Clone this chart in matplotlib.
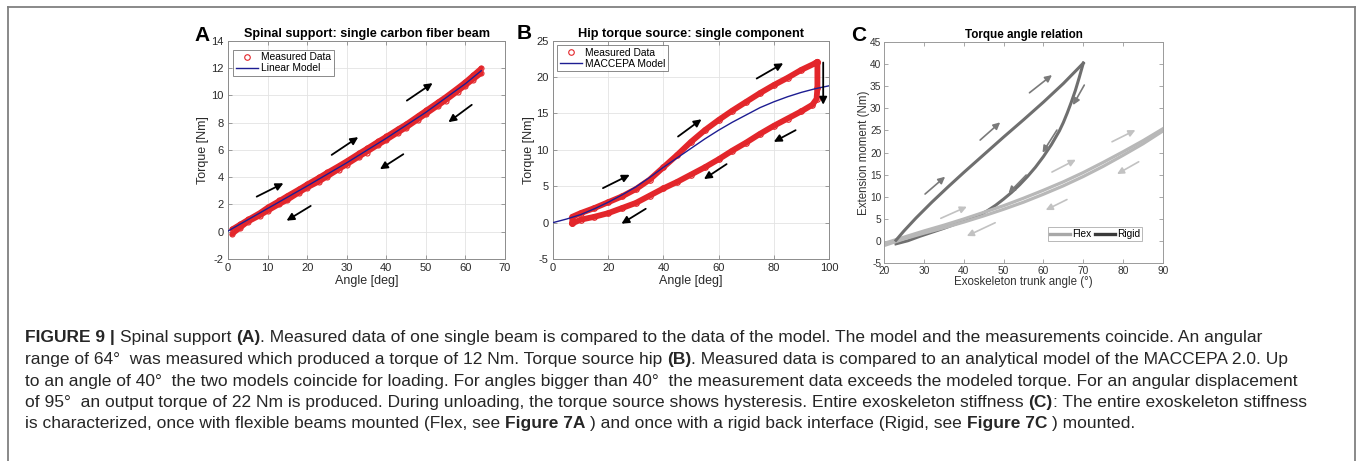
import matplotlib
matplotlib.use('Agg')
import matplotlib.pyplot as plt
from matplotlib.lines import Line2D

W, H = 1360, 461

# ---------------- Panel A data ----------------
a_load_angle = [1, 3, 5, 8, 10, 13, 15, 18, 20, 23, 25, 28, 30, 33, 35, 38, 40, 43, 45, 48, 50, 53, 55, 58, 60, 62, 64]
a_load_torque = [0.2, 0.55, 0.9, 1.4, 1.8, 2.3, 2.65, 3.15, 3.5, 4.0, 4.35, 4.85, 5.2, 5.75, 6.1, 6.65, 7.0, 7.55, 7.9, 8.5, 8.9, 9.5, 9.9, 10.55, 11.0, 11.5, 12.0]
a_unload_angle = [64, 62, 60, 58, 55, 53, 50, 48, 45, 43, 40, 38, 35, 33, 30, 28, 25, 23, 20, 18, 15, 13, 10, 8, 5, 3, 1]
a_unload_torque = [11.6, 11.15, 10.7, 10.25, 9.6, 9.2, 8.6, 8.2, 7.6, 7.25, 6.7, 6.35, 5.8, 5.45, 4.9, 4.55, 4.0, 3.65, 3.2, 2.85, 2.3, 2.0, 1.5, 1.15, 0.7, 0.25, -0.2]
a_model_angle = [0, 10, 20, 30, 40, 50, 60, 64]
a_model_torque = [0.05, 1.7, 3.35, 5.05, 6.85, 8.75, 10.85, 11.8]

# ---------------- Panel B data ----------------
b_load_angle = [7, 7, 10, 15, 20, 25, 30, 35, 40, 45, 50, 55, 60, 65, 70, 75, 80, 85, 90, 95, 95.8]
b_load_torque = [-0.1, 0.8, 1.3, 2.0, 2.8, 3.6, 4.6, 5.9, 7.6, 9.3, 11.1, 12.7, 14.1, 15.4, 16.6, 17.8, 18.9, 19.9, 21.0, 21.9, 22.1]
b_unload_angle = [95.8, 95.8, 95.5, 94, 90, 85, 80, 75, 70, 65, 60, 55, 50, 45, 40, 35, 30, 25, 20, 15, 10, 7]
b_unload_torque = [22.1, 18.5, 17.0, 16.2, 15.3, 14.3, 13.3, 12.2, 11.0, 9.9, 8.7, 7.6, 6.6, 5.6, 4.7, 3.7, 2.7, 2.0, 1.3, 0.8, 0.4, -0.1]
b_model_angle = [0, 5, 10, 15, 20, 25, 30, 35, 40, 45, 50, 55, 60, 65, 70, 75, 80, 85, 90, 95, 100]
b_model_torque = [0, 0.5, 1.1, 1.9, 2.8, 3.8, 4.9, 6.2, 7.6, 8.9, 10.2, 11.5, 12.7, 13.8, 14.8, 15.8, 16.6, 17.3, 17.9, 18.4, 18.8]

# ---------------- Panel C data ----------------
rigid_load_angle = [23, 25, 28, 32, 36, 40, 45, 50, 55, 60, 65, 70]
rigid_load_moment = [0.2, 2.3, 5.2, 8.8, 12.2, 15.5, 19.5, 23.5, 27.4, 31.4, 35.6, 40.2]
rigid_unload_angle = [70, 69, 68, 67, 66, 65, 64, 62, 60, 58, 56, 54, 52, 50, 48, 46, 44, 42, 40, 38, 35, 32, 29, 26, 23]
rigid_unload_moment = [40.2, 37.0, 34.0, 31.4, 29.0, 26.8, 24.9, 21.8, 19.1, 16.7, 14.6, 12.7, 11.0, 9.5, 8.1, 6.9, 5.9, 5.1, 4.5, 3.9, 2.9, 2.0, 1.1, 0.1, -0.6]
flex_load_angle = [20, 25, 30, 35, 40, 45, 50, 55, 60, 65, 70, 75, 80, 85, 90, 92]
flex_load_moment = [-0.5, 0.9, 2.3, 3.6, 5.0, 6.5, 8.0, 9.7, 11.5, 13.4, 15.5, 17.8, 20.2, 22.7, 25.4, 26.5]
flex_unload_angle = [92, 90, 85, 80, 75, 70, 65, 60, 55, 50, 45, 40, 35, 30, 25, 20]
flex_unload_moment = [26.0, 24.9, 22.0, 19.4, 16.9, 14.6, 12.5, 10.6, 8.8, 7.2, 5.7, 4.3, 3.0, 1.8, 0.5, -1.0]

# ---------------- Arrows (tail -> head, data units) ----------------
a_arrows = [((7.25, 2.57), (14.0, 3.55)), ((26.2, 5.63), (32.9, 6.93)), ((45.2, 9.61), (51.7, 10.89)),
            ((20.9, 1.89), (14.8, 0.81)), ((44.3, 5.68), (38.4, 4.58)), ((61.6, 9.30), (55.7, 8.03))]
b_arrows = [((18.1, 4.74), (27.8, 6.57)), ((45.3, 11.83), (53.8, 14.2)), ((73.8, 19.8), (83.4, 21.9)),
            ((33.6, 1.9), (24.8, -0.15)), ((62.9, 8.04), (54.7, 5.98)), ((87.9, 12.7), (80.0, 11.1)),
            ((97.9, 22.0), (97.9, 16.2))]
c_rigid_arrows = [((30.3, 10.64), (35.33, 14.55)), ((44.12, 22.83), (49.15, 26.83)), ((56.5, 33.51), (62.14, 37.51)),
                  ((70.25, 35.25), (67.41, 30.73)), ((63.39, 25.09), (59.77, 19.97)), ((55.68, 14.93), (51.23, 10.8))]
c_flex_arrows = [((34.25, 5.16), (40.78, 7.78)), ((62.14, 15.61), (68.12, 18.39)), ((77.21, 22.45), (83.07, 25.08)),
                 ((47.89, 4.16), (40.78, 1.16)), ((65.9, 9.4), (60.58, 7.03)), ((83.9, 17.93), (78.47, 15.16))]

caption_lines = [
    [("FIGURE 9 |", True), (" ", False), ("Spinal support", False), (" ", False), ("(A)", True),
     (". Measured data of one single beam is compared to the data of the model. The model and the measurements coincide. An angular", False)],
    [("range of 64\u00b0  was measured which produced a torque of 12 Nm. Torque source hip", False), (" ", False), ("(B)", True),
     (". Measured data is compared to an analytical model of the MACCEPA 2.0. Up", False)],
    [("to an angle of 40\u00b0  the two models coincide for loading. For angles bigger than 40\u00b0  the measurement data exceeds the modeled torque. For an angular displacement", False)],
    [("of 95\u00b0  an output torque of 22 Nm is produced. During unloading, the torque source shows hysteresis. Entire exoskeleton stiffness", False), (" ", False), ("(C)", True),
     (": The entire exoskeleton stiffness", False)],
    [("is characterized, once with flexible beams mounted (Flex, see", False), (" ", False), ("Figure 7A", True), (" ", False),
     (") and once with a rigid back interface (Rigid, see", False), (" ", False), ("Figure 7C", True), (" ", False), (") mounted.", False)],
]

plt.rcParams['font.family'] = ['Liberation Sans', 'DejaVu Sans']
plt.rcParams['axes.unicode_minus'] = False
fig = plt.figure(figsize=(W / 100, H / 100), dpi=100)


def rect(l, t, r, b):
    return [l / W, 1 - b / H, (r - l) / W, (b - t) / H]


def style(ax, grid=True, spine='#8c8c8c', lab='#2a2a2a', size=8, pad=3):
    for s in ax.spines.values():
        s.set_color(spine)
        s.set_linewidth(0.7)
    ax.tick_params(direction='in', top=True, right=True, length=3, width=0.6, color=spine,
                   labelsize=size, labelcolor=lab, pad=pad)
    if grid:
        ax.grid(True, color='#e3e3e3', lw=0.6)
        ax.set_axisbelow(True)


def arrows(ax, lst, color, lw=1.3, ms=11):
    for (tx, ty), (hx, hy) in lst:
        ax.annotate('', xy=(hx, hy), xytext=(tx, ty),
                    arrowprops=dict(arrowstyle='-|>', color=color, lw=lw, mutation_scale=ms,
                                    shrinkA=0, shrinkB=0))


RED = '#e3262b'
BLUE = '#1d1d92'

# ---------------- Panel A ----------------
axA = fig.add_axes(rect(228, 40.7, 505, 259))
style(axA)
for xs, ys in ((a_load_angle, a_load_torque), (a_unload_angle, a_unload_torque)):
    axA.plot(xs, ys, color=RED, lw=3.4, solid_capstyle='round', zorder=2)
    axA.plot(xs, ys, 'o', mfc='none', mec=RED, ms=3.6, mew=0.8, zorder=2)
axA.plot(a_model_angle, a_model_torque, color=BLUE, lw=1.0, zorder=3)
axA.set_xlim(0, 70)
axA.set_ylim(-2, 14)
axA.set_xticks(range(0, 71, 10))
axA.set_yticks(range(-2, 15, 2))
axA.set_xlabel('Angle [deg]', fontsize=9, color='#2a2a2a', labelpad=1)
axA.set_ylabel('Torque [Nm]', fontsize=9, color='#2a2a2a', labelpad=2)
axA.set_title('Spinal support: single carbon fiber beam', fontsize=9.1, fontweight='bold', pad=3)
hA = [Line2D([], [], ls='none', marker='o', mfc='none', mec=RED, ms=4, mew=0.8),
      Line2D([], [], color=BLUE, lw=1.0)]
legA = axA.legend(hA, ['Measured Data', 'Linear Model'], loc='upper left', bbox_to_anchor=(0.018, 0.958),
                  fontsize=7.4, frameon=True, fancybox=False, edgecolor='#555555', borderpad=0.25,
                  labelspacing=0.1, handlelength=2.2, handletextpad=0.3, borderaxespad=0)
legA.get_frame().set_linewidth(0.6)
arrows(axA, a_arrows, 'black')

# ---------------- Panel B ----------------
axB = fig.add_axes(rect(553, 40.7, 829, 259))
style(axB)
for xs, ys in ((b_load_angle, b_load_torque), (b_unload_angle, b_unload_torque)):
    axB.plot(xs, ys, color=RED, lw=4.2, solid_capstyle='round', solid_joinstyle='round', zorder=2)
    axB.plot(xs, ys, 'o', mfc='none', mec=RED, ms=4, mew=0.8, zorder=2)
axB.plot(b_model_angle, b_model_torque, color=BLUE, lw=1.0, zorder=3)
axB.set_xlim(0, 100)
axB.set_ylim(-5, 25)
axB.set_xticks(range(0, 101, 20))
axB.set_yticks(range(-5, 26, 5))
axB.set_xlabel('Angle [deg]', fontsize=9, color='#2a2a2a', labelpad=1)
axB.set_ylabel('Torque [Nm]', fontsize=9, color='#2a2a2a', labelpad=1)
axB.set_title('Hip torque source: single component', fontsize=9.2, fontweight='bold', pad=3)
hB = [Line2D([], [], ls='none', marker='o', mfc='none', mec=RED, ms=4, mew=0.8),
      Line2D([], [], color=BLUE, lw=1.0)]
legB = axB.legend(hB, ['Measured Data', 'MACCEPA Model'], loc='upper left', bbox_to_anchor=(0.015, 0.98),
                  fontsize=7.4, frameon=True, fancybox=False, edgecolor='#555555', borderpad=0.25,
                  labelspacing=0.1, handlelength=2.2, handletextpad=0.3, borderaxespad=0)
legB.get_frame().set_linewidth(0.6)
arrows(axB, b_arrows, 'black')

# ---------------- Panel C ----------------
axC = fig.add_axes(rect(884, 41.9, 1163, 263.3))
style(axC, grid=False, spine='#9a9a9a', lab='#333333', size=7.3, pad=2)
FLEX = '#b8b8b8'
RIGID = '#6f6f6f'
axC.plot(flex_load_angle, flex_load_moment, color=FLEX, lw=2.3, zorder=2, solid_capstyle='butt')
axC.plot(flex_unload_angle, flex_unload_moment, color=FLEX, lw=2.3, zorder=2, solid_capstyle='butt')
axC.plot(rigid_unload_angle, rigid_unload_moment, color=RIGID, lw=2.2, zorder=1, solid_joinstyle='round')
axC.plot(rigid_load_angle, rigid_load_moment, color=RIGID, lw=2.2, zorder=3, solid_joinstyle='round')
axC.set_xlim(20, 90)
axC.set_ylim(-5, 45)
axC.set_xticks(range(20, 91, 10))
axC.set_yticks(range(-5, 46, 5))
axC.set_xlabel('Exoskeleton trunk angle (\u00b0)', fontsize=8.3, color='#333333', labelpad=0)
axC.set_ylabel('Extension moment (Nm)', fontsize=8.3, color='#333333', labelpad=0)
axC.set_title('Torque angle relation', fontsize=8.4, fontweight='bold', pad=3)
hC = [Line2D([], [], color='#a8a8a8', lw=2.4), Line2D([], [], color='#3a3a3a', lw=2.4)]
legC = axC.legend(hC, ['Flex', 'Rigid'], loc='lower left', bbox_to_anchor=(0.588, 0.10), ncol=2,
                  fontsize=7.3, frameon=True, fancybox=False, edgecolor='#999999', borderpad=0.2,
                  handlelength=2.0, handletextpad=0.2, columnspacing=0.3, borderaxespad=0)
legC.get_frame().set_linewidth(0.6)
arrows(axC, c_rigid_arrows, '#7a7a7a', lw=1.2, ms=10)
arrows(axC, c_flex_arrows, '#c2c2c2', lw=1.2, ms=10)

# panel letters
for lab, x, y in (('A', 194, 41), ('B', 517, 39), ('C', 851, 41)):
    fig.text(x / W, 1 - y / H, lab, fontsize=15, fontweight='bold', va='baseline', ha='left')

# outer frame (top, left, right)
fc = '#808080'
fig.add_artist(Line2D([8 / W, 1355 / W], [1 - 7.5 / H, 1 - 7.5 / H], transform=fig.transFigure, color=fc, lw=1.3))
fig.add_artist(Line2D([8 / W, 8 / W], [1 - 7.5 / H, 0], transform=fig.transFigure, color=fc, lw=1.3))
fig.add_artist(Line2D([1355 / W, 1355 / W], [1 - 7.5 / H, 0], transform=fig.transFigure, color=fc, lw=1.3))

# caption: left-aligned text with mixed bold runs
fig.canvas.draw()
renderer = fig.canvas.get_renderer()
CAP_FAMILY = ['Liberation Sans', 'DejaVu Sans']
CAP_SIZE = 12.5
CAP_COLOR = '#262626'


def width_of(s, bold):
    t = fig.text(0, 0, s, fontsize=CAP_SIZE, family=CAP_FAMILY, fontweight='bold' if bold else 'normal')
    w = t.get_window_extent(renderer).width
    t.remove()
    return w


space_w = width_of('x x', False) - width_of('xx', False)
baselines = [342, 364, 386, 407, 428]
for line, yb in zip(caption_lines, baselines):
    x = 25
    for s, bold in line:
        if s == ' ':
            x += space_w
            continue
        t = fig.text(x / W, 1 - yb / H, s, fontsize=CAP_SIZE, family=CAP_FAMILY,
                     fontweight='bold' if bold else 'normal', color=CAP_COLOR, va='baseline', ha='left')
        x += t.get_window_extent(renderer).width

fig.savefig('out.png', dpi=100)
